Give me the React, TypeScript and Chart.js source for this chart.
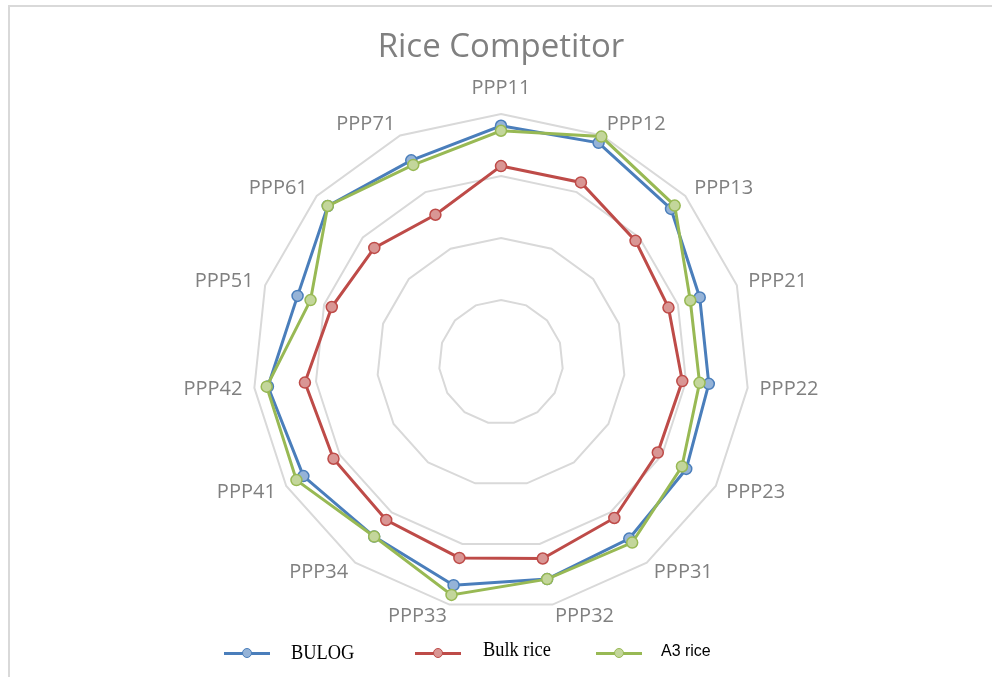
import React, { useEffect, useRef } from "react";
import { Chart, registerables } from "chart.js";

Chart.register(...registerables);

const chartTitle = "Rice Competitor";
const categories = [
  "PPP11", "PPP12", "PPP13", "PPP21", "PPP22", "PPP23", "PPP31", "PPP32",
  "PPP33", "PPP34", "PPP41", "PPP42", "PPP51", "PPP61", "PPP71",
];
const seriesNames = ["BULOG", "Bulk rice", "A3 rice"];
const bulogValues = [4.81, 4.87, 4.69, 4.37, 4.37, 4.45, 4.52, 4.58, 4.68, 4.48, 4.68, 4.78, 4.45, 4.76, 4.56];
const bulkValues = [4.16, 4.17, 3.92, 3.84, 3.94, 3.92, 4.11, 4.24, 4.23, 4.15, 4.12, 4.18, 3.87, 3.75, 3.6];
const a3Values = [4.73, 4.98, 4.77, 4.21, 4.22, 4.37, 4.6, 4.58, 4.84, 4.48, 4.81, 4.8, 4.23, 4.76, 4.48];
const scaleMin = 1;
const scaleMax = 5;
const scaleStep = 1;

const lineColors = ["#4a7ebb", "#be4b48", "#98b954"];
const pointFills = ["#95b3d7", "#d99694", "#c3d69b"];

const excelPointLabels = {
  id: "excelPointLabels",
  afterDraw(chart: any) {
    const scale = chart.scales.r;
    const ctx = chart.ctx;
    const labels: string[] = chart.data.labels;
    ctx.save();
    ctx.font = "20px 'Open Sans'";
    ctx.fillStyle = "#808080";
    ctx.textBaseline = "middle";
    labels.forEach((lab, i) => {
      const pos = scale.getPointPosition(i, scale.drawingArea + 12);
      const a = scale.getIndexAngle(i);
      const s = Math.sin(a);
      const c = Math.cos(a);
      let align: CanvasTextAlign = "center";
      if (s > 0.01) align = "left";
      else if (s < -0.01) align = "right";
      let y = pos.y;
      if (Math.abs(s) <= 0.01) y -= c * 14;
      ctx.textAlign = align;
      ctx.fillText(lab, pos.x, y);
    });
    ctx.restore();
  },
};

function LegendItem(props: {
  lineLeft: number;
  textLeft: number;
  textCenter: number;
  color: string;
  fill: string;
  text: string;
  font: string;
  size: number;
  scaleX: number;
}) {
  const { lineLeft, textLeft, textCenter, color, fill, text, font, size, scaleX } = props;
  const lineY = 653;
  return (
    <>
      <div
        style={{
          position: "absolute",
          left: lineLeft,
          top: lineY - 1.5,
          width: 46,
          height: 3,
          background: color,
        }}
      />
      <div
        style={{
          position: "absolute",
          left: lineLeft + 23 - 5,
          top: lineY - 5,
          width: 10,
          height: 10,
          boxSizing: "border-box",
          borderRadius: "50%",
          background: fill,
          border: `1.5px solid ${color}`,
        }}
      />
      <div
        style={{
          position: "absolute",
          left: textLeft,
          top: textCenter - 12,
          height: 24,
          lineHeight: "24px",
          fontFamily: font,
          fontSize: size,
          color: "#000",
          whiteSpace: "nowrap",
          transform: `scaleX(${scaleX})`,
          transformOrigin: "left center",
        }}
      >
        {text}
      </div>
    </>
  );
}

export default function App() {
  const canvasRef = useRef<HTMLCanvasElement | null>(null);

  useEffect(() => {
    const canvas = canvasRef.current;
    if (!canvas) return;
    const values = [bulogValues, bulkValues, a3Values];
    const chart = new Chart(canvas, {
      type: "radar",
      data: {
        labels: categories,
        datasets: seriesNames.map((name, i) => ({
          label: name,
          data: values[i],
          borderColor: lineColors[i],
          backgroundColor: pointFills[i],
          borderWidth: 3,
          fill: false,
          tension: 0,
          pointRadius: 5.5,
          pointBorderWidth: 1.5,
          pointBackgroundColor: pointFills[i],
          pointBorderColor: lineColors[i],
          order: 3 - i,
        })),
      },
      options: {
        responsive: false,
        animation: false,
        devicePixelRatio: 1,
        layout: { padding: { top: 0, left: 10, right: 0, bottom: 67 } },
        plugins: {
          legend: { display: false },
          tooltip: { enabled: false },
          title: {
            display: true,
            text: chartTitle,
            color: "#808080",
            font: { family: "'Open Sans'", size: 33, weight: "normal", lineHeight: "36px" },
            padding: { top: 30, bottom: 48 },
          },
        },
        scales: {
          r: {
            min: scaleMin,
            max: scaleMax,
            ticks: { stepSize: scaleStep, display: false },
            angleLines: { display: false },
            grid: { color: "#d9d9d9", lineWidth: 2, circular: false },
            pointLabels: { display: false },
          },
        },
      },
      plugins: [excelPointLabels],
    } as any);
    return () => chart.destroy();
  }, []);

  return (
    <div
      style={{
        position: "fixed",
        left: 0,
        top: 0,
        width: 992,
        height: 677,
        background: "#fff",
        overflow: "hidden",
      }}
    >
      <canvas
        ref={canvasRef}
        width={992}
        height={677}
        style={{ position: "absolute", left: 0, top: 0, width: 992, height: 677 }}
      />
      <div
        style={{
          position: "absolute",
          left: 8,
          top: 5,
          width: 990,
          height: 680,
          borderTop: "2px solid #d9d9d9",
          borderLeft: "2px solid #d9d9d9",
          pointerEvents: "none",
        }}
      />
      <LegendItem lineLeft={224} textLeft={291} textCenter={652} color={lineColors[0]} fill={pointFills[0]} text={seriesNames[0]} font="'Liberation Serif', serif" size={21} scaleX={0.875} />
      <LegendItem lineLeft={415} textLeft={483} textCenter={649} color={lineColors[1]} fill={pointFills[1]} text={seriesNames[1]} font="'Liberation Serif', serif" size={21} scaleX={0.875} />
      <LegendItem lineLeft={596} textLeft={661} textCenter={651} color={lineColors[2]} fill={pointFills[2]} text={seriesNames[2]} font="'Liberation Sans', sans-serif" size={17} scaleX={0.94} />
    </div>
  );
}
